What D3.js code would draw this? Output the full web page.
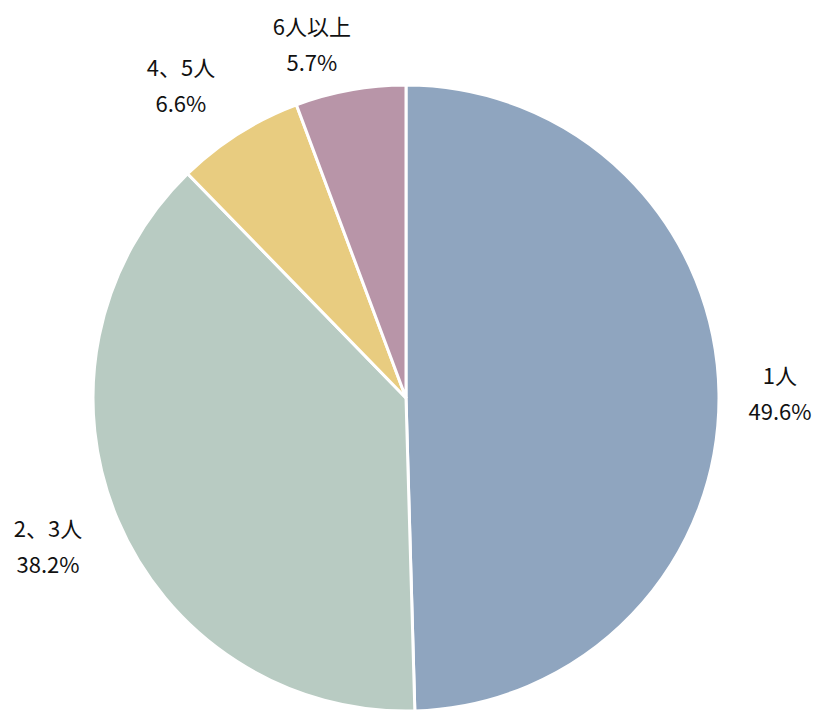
<!DOCTYPE html>
<html>
<head>
<meta charset="utf-8">
<script src="https://cdn.jsdelivr.net/npm/d3@7"></script>
<style>
  body { margin: 0; background: #fff; }
  svg { display: block; }
  .label { font-family: "Noto Sans CJK JP", "Noto Sans", sans-serif; font-size: 22px; fill: #111; }
</style>
</head>
<body>
<svg id="chart" width="824" height="710"></svg>
<script>
const categories = ['1人', '2、3人', '4、5人', '6人以上']
const values = [49.6, 38.2, 6.6, 5.7]
const colors = ['#8fa5bf', '#b8cbc2', '#e8cc80', '#b895a8']

document.addEventListener('DOMContentLoaded', start)

function start () {
  const svg = d3.select('#chart')
  const cx = 406
  const cy = 398
  const radius = 313
  // label distance from centre and sideways nudge, per slice (Excel places them a bit unevenly)
  const labelRadii = [376, 380, 370, 360]
  const labelNudge = [-2, -8, -27, -30]

  const data = categories.map((c, i) => ({ name: c, value: values[i], color: colors[i] }))
  const pie = d3.pie().sort(null).value(d => d.value)
  const arc = d3.arc().innerRadius(0).outerRadius(radius)

  const g = svg.append('g').attr('transform', `translate(${cx},${cy})`)

  g.selectAll('path')
    .data(pie(data))
    .enter().append('path')
    .attr('d', arc)
    .attr('fill', d => d.data.color)
    .attr('stroke', '#fff')
    .attr('stroke-width', 3)

  const labels = g.selectAll('.label')
    .data(pie(data))
    .enter().append('text')
    .attr('class', 'label')
    .attr('text-anchor', 'middle')
    .attr('transform', (d, i) => {
      const r = labelRadii[i]
      const c = d3.arc().innerRadius(r).outerRadius(r).centroid(d)
      return `translate(${c[0] + labelNudge[i]},${c[1]})`
    })

  labels.append('tspan')
    .attr('x', 0)
    .attr('y', -9)
    .text(d => d.data.name)
  labels.append('tspan')
    .attr('x', 0)
    .attr('y', 27)
    .text(d => d.data.value.toFixed(1) + '%')
}
</script>
</body>
</html>
